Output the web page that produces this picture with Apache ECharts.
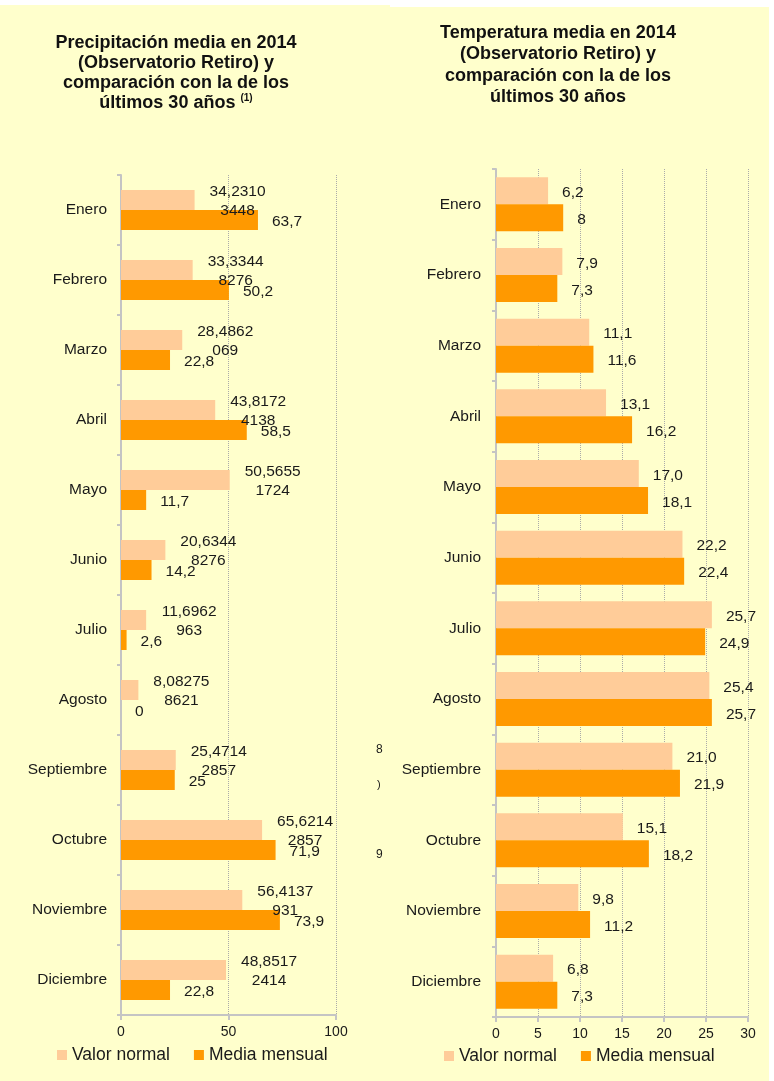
<!DOCTYPE html>
<html>
<head>
<meta charset="utf-8">
<script src="https://cdn.jsdelivr.net/npm/echarts@6/dist/echarts.min.js"></script>
<style>
html, body { margin: 0; padding: 0; background: #fff; }
#wrap { position: relative; width: 774px; height: 1081px; overflow: hidden; }
.panel { position: absolute; background: #ffffcc; }
#chart { position: absolute; left: 0; top: 0; width: 774px; height: 1081px; }
</style>
</head>
<body>
<div id="wrap">
  <div class="panel" style="left:0;top:5px;width:390px;height:1076px"></div>
  <div class="panel" style="left:390px;top:7px;width:379px;height:1074px"></div>
  <div id="chart"></div>
</div>
<script>
// datos
const months = ['Enero', 'Febrero', 'Marzo', 'Abril', 'Mayo', 'Junio', 'Julio', 'Agosto', 'Septiembre', 'Octubre', 'Noviembre', 'Diciembre']
const legendNames = ['Valor normal', 'Media mensual']

const precipNormal = [34.23103448, 33.33448276, 28.4862069, 43.81724138, 50.56551724, 20.63448276, 11.6962963, 8.082758621, 25.47142857, 65.62142857, 56.4137931, 48.85172414]
const precipMedia = [63.7, 50.2, 22.8, 58.5, 11.7, 14.2, 2.6, 0, 25, 71.9, 73.9, 22.8]

const tempNormal = [6.2, 7.9, 11.1, 13.1, 17.0, 22.2, 25.7, 25.4, 21.0, 15.1, 9.8, 6.8]
const tempMedia = [8, 7.3, 11.6, 16.2, 18.1, 22.4, 24.9, 25.7, 21.9, 18.2, 11.2, 7.3]

const precipTicks = { min: 0, max: 100, interval: 50 }
const tempTicks = { min: 0, max: 30, interval: 5 }

const FONT = '"Liberation Sans", Arial, sans-serif'
const TXT = '#1a1a1a'
const AXIS = '#c4c4c4'
const LIGHT = '#ffcc99'
const ORANGE = '#ff9900'

const comma = v => String(v).replace('.', ',')

const valueAxis = (gridIndex, ticks) => ({
  gridIndex,
  type: 'value',
  min: ticks.min,
  max: ticks.max,
  interval: ticks.interval,
  axisLine: { show: true, lineStyle: { color: AXIS, width: 2 } },
  axisTick: { show: true, length: 5, lineStyle: { color: AXIS, width: 2 } },
  axisLabel: { margin: 10, fontSize: 14, color: TXT, fontFamily: FONT },
  splitLine: { show: true, lineStyle: { color: '#aaaaaa', type: 'dotted', width: 1 } },
})

const catAxis = (gridIndex, margin) => ({
  gridIndex,
  type: 'category',
  data: months,
  inverse: true,
  axisLine: { show: true, lineStyle: { color: AXIS, width: 2 } },
  axisTick: { show: true, length: 4, alignWithLabel: false, lineStyle: { color: AXIS, width: 2 } },
  axisLabel: { margin, interval: 0, fontSize: 15.5, color: TXT, fontFamily: FONT },
  splitLine: { show: false },
})

const legendAt = (left, top) => ({
  data: legendNames,
  left,
  top,
  padding: 0,
  icon: 'rect',
  itemWidth: 10,
  itemHeight: 10,
  itemGap: 24,
  textStyle: { fontSize: 17.5, color: TXT, fontFamily: FONT },
})

const labelBase = { show: true, fontSize: 15.5, color: TXT, fontFamily: FONT }

const chart = echarts.init(document.getElementById('chart'), null, { renderer: 'canvas' })

chart.setOption({
  animation: false,
  backgroundColor: 'transparent',
  title: [
    {
      left: 176,
      top: 33,
      padding: 0,
      textAlign: 'center',
      text: '{b|Precipitación media en 2014}\n{b|(Observatorio Retiro) y}\n{b|comparación con la de los}\n{b|últimos 30 años }{s|(1)}',
      textStyle: {
        rich: {
          b: { fontSize: 18, fontWeight: 'bold', lineHeight: 20, color: '#111', fontFamily: FONT },
          s: { fontSize: 10, fontWeight: 'bold', lineHeight: 20, verticalAlign: 'top', color: '#111', fontFamily: FONT },
        },
      },
    },
    {
      left: 558,
      top: 22,
      padding: 0,
      textAlign: 'center',
      text: 'Temperatura media en 2014\n(Observatorio Retiro) y\ncomparación con la de los\núltimos 30 años',
      textStyle: { fontSize: 18, fontWeight: 'bold', lineHeight: 21.5, color: '#111', fontFamily: FONT },
    },
  ],
  legend: [legendAt(57, 1046), legendAt(444, 1047)],
  grid: [
    { left: 121, top: 175, width: 215, height: 840, containLabel: false, outerBoundsMode: 'none' },
    { left: 496, top: 169, width: 252, height: 848, containLabel: false, outerBoundsMode: 'none' },
  ],
  xAxis: [valueAxis(0, precipTicks), valueAxis(1, tempTicks)],
  yAxis: [catAxis(0, 14), catAxis(1, 15)],
  series: [
    {
      name: 'Valor normal',
      type: 'bar',
      xAxisIndex: 0,
      yAxisIndex: 0,
      data: precipNormal,
      barWidth: 20,
      barGap: '0%',
      itemStyle: { color: LIGHT },
      label: {
        ...labelBase,
        position: ['100%', '50%'],
        offset: [43, 1],
        align: 'center',
        verticalAlign: 'middle',
        lineHeight: 19,
        formatter: p => {
          const s = comma(p.value)
          return s.slice(0, 7) + '\n' + s.slice(7)
        },
      },
    },
    {
      name: 'Media mensual',
      type: 'bar',
      xAxisIndex: 0,
      yAxisIndex: 0,
      data: precipMedia,
      barWidth: 20,
      barGap: '0%',
      itemStyle: { color: ORANGE },
      label: { ...labelBase, position: 'right', distance: 14, offset: [0, 2], formatter: p => comma(p.value) },
    },
    {
      name: 'Valor normal',
      type: 'bar',
      xAxisIndex: 1,
      yAxisIndex: 1,
      data: tempNormal,
      barWidth: 27,
      barGap: '0%',
      itemStyle: { color: LIGHT },
      label: { ...labelBase, position: 'right', distance: 14, offset: [0, 2], formatter: p => comma(p.value.toFixed(1)) },
    },
    {
      name: 'Media mensual',
      type: 'bar',
      xAxisIndex: 1,
      yAxisIndex: 1,
      data: tempMedia,
      barWidth: 27,
      barGap: '0%',
      itemStyle: { color: ORANGE },
      label: { ...labelBase, position: 'right', distance: 14, offset: [0, 2], formatter: p => comma(p.value) },
    },
  ],
  // restos de etiquetas recortadas entre los dos gráficos
  graphic: [
    { type: 'text', left: 376, top: 744, style: { text: '8', fontSize: 12, fill: TXT, fontFamily: FONT } },
    { type: 'text', left: 377, top: 779, style: { text: ')', fontSize: 11, fill: TXT, fontFamily: FONT } },
    { type: 'text', left: 376, top: 849, style: { text: '9', fontSize: 12, fill: TXT, fontFamily: FONT } },
  ],
})
</script>
</body>
</html>
